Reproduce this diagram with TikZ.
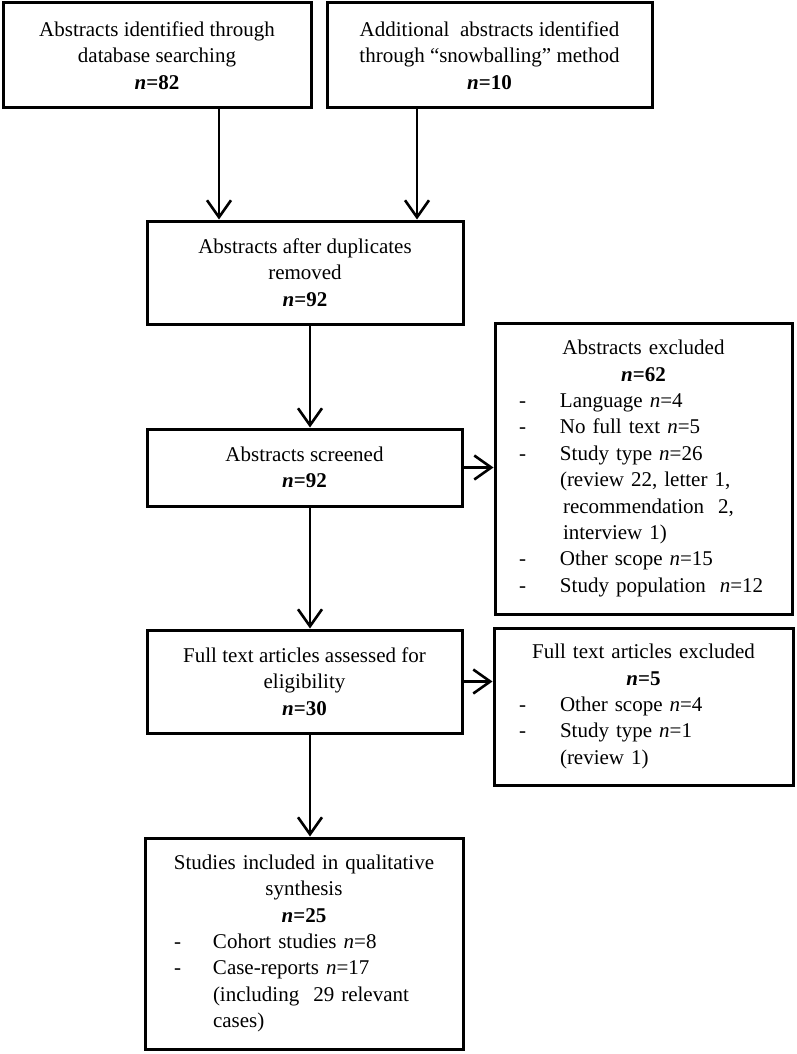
\documentclass[tikz,border=0pt]{standalone}
\usepackage{fontspec}
\setmainfont{Liberation Serif}
\usetikzlibrary{arrows.meta}
\newcommand\listline[3]{\hspace*{#1}\makebox[#2][l]{-}#3\par}
\newcommand\contline[2]{\hspace*{#1}#2\par}
\newcommand\listsetup{\setlength{\parindent}{0pt}\raggedright}
\begin{document}
\begin{tikzpicture}[x=1pt,y=-1pt,
  box/.style={draw, line width=3pt, inner sep=0pt,
    font=\fontsize{21}{26.4}\selectfont, align=center},
  listbox/.style={draw, line width=3pt, inner sep=0pt,
    font=\fontsize{21}{26.4}\selectfont},
  arr/.style={line width=2.6pt,
    -{Straight Barb[length=17pt,width=24pt,line width=2.6pt]}}]
\useasboundingbox (0,0) rectangle (796,1054);

\node[box, minimum width=308pt, minimum height=105pt] (b1) at (157,55.5)
  {Abstracts identified through\\database searching\\\textbf{\textit{n}=82}};
\node[box, minimum width=325pt, minimum height=105pt] (b2) at (489.5,55.5)
  {Additional\ \ abstracts identified\\through “snowballing” method\\\textbf{\textit{n}=10}};
\node[box, minimum width=316pt, minimum height=103pt] (b3) at (305,272.5)
  {Abstracts after duplicates\\removed\\\textbf{\textit{n}=92}};
\node[box, minimum width=315pt, minimum height=77pt] (scr) at (304.5,467.5)
  {Abstracts screened\\\textbf{\textit{n}=92}};
\node[box, minimum width=315pt, minimum height=103pt] (ft) at (304.5,681.5)
  {Full text articles assessed for\\eligibility\\\textbf{\textit{n}=30}};

\node[listbox, minimum width=297pt, minimum height=291pt, text width=297pt] (ex1) at (643.5,468.5)
  {\listsetup
   {\centering Abstracts excluded\par \textbf{\textit{n}=62}\par}
   \listline{24pt}{41pt}{Language \textit{n}=4}
   \listline{24pt}{41pt}{No full text \textit{n}=5}
   \listline{24pt}{41pt}{Study type \textit{n}=26}
   \contline{65pt}{(review 22, letter 1,}
   \contline{68pt}{recommendation\ \ 2,}
   \contline{68pt}{interview\ 1)}
   \listline{24pt}{41pt}{Other scope \textit{n}=15}
   \listline{24pt}{41pt}{Study population\ \ \textit{n}=12}};

\node[listbox, minimum width=299pt, minimum height=157pt, text width=299pt] (ex2) at (643.5,706.5)
  {\listsetup
   {\centering Full text articles excluded\par \textbf{\textit{n}=5}\par}
   \listline{25pt}{41pt}{Other scope \textit{n}=4}
   \listline{25pt}{41pt}{Study type \textit{n}=1}
   \contline{66pt}{(review 1)}};

\node[listbox, minimum width=318pt, minimum height=211pt, text width=318pt] (st) at (304,943.5)
  {\listsetup
   {\centering Studies included in qualitative\par synthesis\par \textbf{\textit{n}=25}\par}
   \listline{29pt}{39pt}{Cohort studies \textit{n}=8}
   \listline{29pt}{39pt}{Case-reports \textit{n}=17}
   \contline{68pt}{(including\ \ 29 relevant}
   \contline{68pt}{cases)}};

\coordinate (c1) at (219,0);
\coordinate (c2) at (417,0);
\coordinate (c3) at (310,0);
\draw[arr] (b1.south -| c1) -- (b3.north -| c1);
\draw[arr] (b2.south -| c2) -- (b3.north -| c2);
\draw[arr] (b3.south -| c3) -- (scr.north -| c3);
\draw[arr] (scr.south -| c3) -- (ft.north -| c3);
\draw[arr] (ft.south -| c3) -- (st.north -| c3);
\draw[arr] (scr.east) -- (ex1.west |- scr.east);
\draw[arr] (ft.east) -- (ex2.west |- ft.east);
\end{tikzpicture}
\end{document}
